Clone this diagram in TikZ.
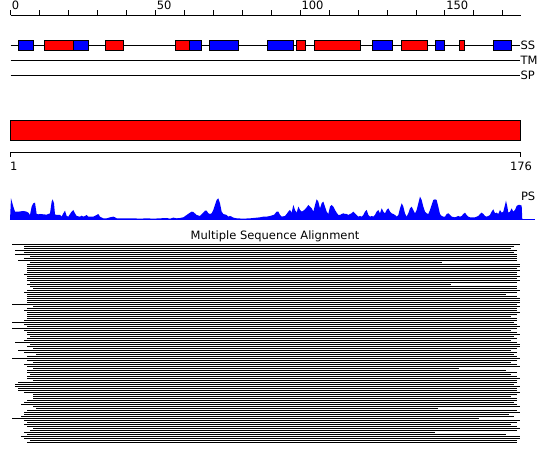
\documentclass[tikz,border=0pt]{standalone}
\usepackage{fontspec}
\setmainfont{DejaVu Sans}
\begin{document}
\begin{tikzpicture}[x=1pt,y=-1pt,line width=1pt,
  helix/.style={draw=black,fill=red,line width=1pt},
  strand/.style={draw=black,fill=blue,line width=1pt},
  lbl/.style={font=\fontsize{11.5}{13}\selectfont,inner sep=0pt},
  msa/.style={line width=1pt,black}]
\useasboundingbox (0,0) rectangle (550,465);
% ruler
\draw (10.5,15.5) -- (521,15.5);
\foreach \i in {0,...,17} \draw ({10.7+28.95*\i},15.5) -- ({10.7+28.95*\i},10);
\foreach \v/\i in {0/0,50/5,100/10,150/15}
  \node[lbl,anchor=base west] (r\v) at ({11.5+28.95*\i},9.5) {\v};
% SS / TM / SP tracks
\draw (10.5,45.5) -- (520,45.5);
\draw (10.5,60.5) -- (520,60.5);
\draw (10.5,75.5) -- (520,75.5);
\node[lbl,anchor=west] (ss) at (520,45.5) {SS};
\node[lbl,anchor=west] (tm) at (520,60.5) {TM};
\node[lbl,anchor=west] (sp) at (520,75.5) {SP};
\foreach \a/\b in {18.3/33.7,73.3/88.3,189.3/201.7,209.3/238.7,267.3/293.7,372/392.7,435.3/444.7,493.3/511.7}
  \draw[strand] (\a,40.5) rectangle (\b,50.5);
\foreach \a/\b in {44.7/73.3,105.3/123.7,175.3/189.3,296/305.7,314.3/360.7,401.3/427.7,459.3/464.7}
  \draw[helix] (\a,40.5) rectangle (\b,50.5);
% domain bar
\draw[fill=red] (10.5,120.5) rectangle (520.5,140.5);
\draw (10.5,152.5) -- (520.5,152.5);
\draw (10.5,152.5) -- (10.5,157.5);
\draw (520.5,152.5) -- (520.5,157.5);
\node[lbl,anchor=west] (s1) at (9.5,166.5) {1};
\node[lbl] (s176) at (521,166.5) {176};
% PS profile
\begin{scope}[shift={(0,190)},scale=1/3]
\fill[blue] (30,90) -- (33,25) -- (40,50) -- (45,65) -- (55,65) -- (70,63) -- (80,65) -- (85,68) -- (90,75) -- (95,50) -- (100,40) -- (105,38) -- (110,72) -- (115,73) -- (120,72) -- (130,73) -- (140,74) -- (150,70) -- (155,35) -- (158,28) -- (162,40) -- (165,73) -- (170,75) -- (180,75) -- (185,80) -- (190,70) -- (195,62) -- (200,78) -- (205,80) -- (210,72) -- (215,65) -- (220,60) -- (225,70) -- (230,78) -- (240,80) -- (245,77) -- (250,80) -- (255,78) -- (260,75) -- (265,80) -- (270,80) -- (280,80) -- (290,75) -- (295,72) -- (300,80) -- (310,85) -- (320,85) -- (330,82) -- (340,80) -- (345,82) -- (350,85) -- (400,85) -- (420,86) -- (440,85) -- (460,86) -- (480,85) -- (500,84) -- (510,86) -- (520,83) -- (530,85) -- (540,84) -- (550,82) -- (560,75) -- (570,68) -- (575,65) -- (580,66) -- (590,75) -- (600,78) -- (610,68) -- (615,62) -- (620,62) -- (625,70) -- (630,72) -- (635,70) -- (640,60) -- (645,45) -- (650,30) -- (655,25) -- (660,40) -- (665,65) -- (670,72) -- (680,75) -- (685,80) -- (690,78) -- (695,80) -- (700,83) -- (710,85) -- (730,86) -- (750,85) -- (760,84) -- (770,83) -- (780,82) -- (790,80) -- (800,80) -- (810,78) -- (820,75) -- (826,72) -- (826,90) -- cycle;
\end{scope}
\begin{scope}[shift={(275,190)},scale=1/3]
\fill[blue] (-1,90) -- (-1,72) -- (5,65) -- (10,65) -- (15,75) -- (20,80) -- (30,78) -- (35,72) -- (40,65) -- (45,60) -- (50,68) -- (55,45) -- (60,60) -- (65,68) -- (70,50) -- (75,60) -- (80,65) -- (85,62) -- (90,58) -- (95,52) -- (100,45) -- (105,50) -- (110,55) -- (115,65) -- (120,45) -- (125,28) -- (130,35) -- (135,55) -- (140,40) -- (145,35) -- (150,50) -- (155,65) -- (160,72) -- (165,50) -- (170,45) -- (175,50) -- (180,60) -- (185,68) -- (190,75) -- (195,75) -- (200,72) -- (205,70) -- (210,72) -- (215,72) -- (220,75) -- (225,72) -- (230,70) -- (235,65) -- (240,70) -- (245,75) -- (250,80) -- (255,78) -- (260,80) -- (265,75) -- (270,65) -- (275,60) -- (280,75) -- (285,80) -- (290,78) -- (295,80) -- (300,75) -- (305,65) -- (310,60) -- (315,70) -- (320,55) -- (325,65) -- (330,70) -- (335,60) -- (340,55) -- (345,65) -- (350,70) -- (355,72) -- (360,75) -- (365,80) -- (370,75) -- (375,55) -- (380,40) -- (385,50) -- (390,70) -- (395,80) -- (400,70) -- (405,55) -- (410,50) -- (415,60) -- (420,70) -- (425,60) -- (430,40) -- (435,20) -- (440,30) -- (445,50) -- (450,65) -- (455,70) -- (460,72) -- (465,60) -- (470,45) -- (475,30) -- (480,28) -- (485,30) -- (490,50) -- (495,72) -- (500,78) -- (505,80) -- (510,80) -- (515,72) -- (520,70) -- (525,75) -- (530,80) -- (540,82) -- (545,80) -- (550,78) -- (555,80) -- (560,78) -- (565,72) -- (570,68) -- (575,75) -- (580,80) -- (585,82) -- (600,82) -- (605,80) -- (610,78) -- (615,72) -- (620,68) -- (625,72) -- (630,78) -- (635,80) -- (640,78) -- (645,75) -- (650,65) -- (655,58) -- (660,70) -- (665,68) -- (670,72) -- (675,60) -- (680,68) -- (685,65) -- (690,45) -- (693,32) -- (697,50) -- (700,68) -- (705,65) -- (710,55) -- (715,65) -- (720,60) -- (725,48) -- (730,45) -- (735,45) -- (740,47) -- (742,90) -- cycle;
\end{scope}
\draw[blue] (10,219.5) -- (535,219.5);
\node[lbl,anchor=west] (ps) at (520.5,196) {PS};
% multiple sequence alignment
\node[lbl] (title) at (275,236) {Multiple Sequence Alignment};
\foreach \l/\r [count=\k from 0] in {
12.3/520,24.3/514,24.3/511,15.3/517,24.3/514,15.3/517,30.3/517,24.3/517,18.3/517,30.3/442,
27.3/520,27.3/520,27.3/517,27.3/520,27.3/517,24.3/517,27.3/520,27.3/517,27.3/520,30.3/517,
27.3/451,30.3/517,33.3/517,27.3/520,24.3/517,27.3/506,27.3/517,27.3/520,27.3/520,27.3/520,
12.3/517,33.3/520,27.3/517,24.3/517,27.3/520,27.3/517,27.3/511,27.3/517,24.3/517,12.3/514,
24.3/517,27.3/520,12.3/517,24.3/511,27.3/517,27.3/520,30.3/514,27.3/517,24.3/511,15.3/517,
30.3/520,27.3/520,33.3/517,18.3/511,24.3/517,36.3/514,27.3/517,12.3/520,27.3/517,33.3/511,
24.3/517,27.3/520,33.3/459,27.3/506,27.3/517,30.3/511,27.3/517,27.3/520,33.3/517,18.3/517,
15.3/514,15.3/520,18.3/517,18.3/517,24.3/520,33.3/517,33.3/511,33.3/517,27.3/517,24.3/514,
21.3/517,33.3/520,36.3/438,27.3/517,24.3/520,24.3/509,21.3/514,12.3/479,24.3/520,27.3/517,
24.3/511,27.3/517,33.3/520,30.3/517,24.3/435,27.3/506,21.3/520,24.3/520,30.3/517,27.3/517}
  \draw[msa] (\l,{244.5+2*\k}) -- (\r,{244.5+2*\k});
\end{tikzpicture}
\end{document}
